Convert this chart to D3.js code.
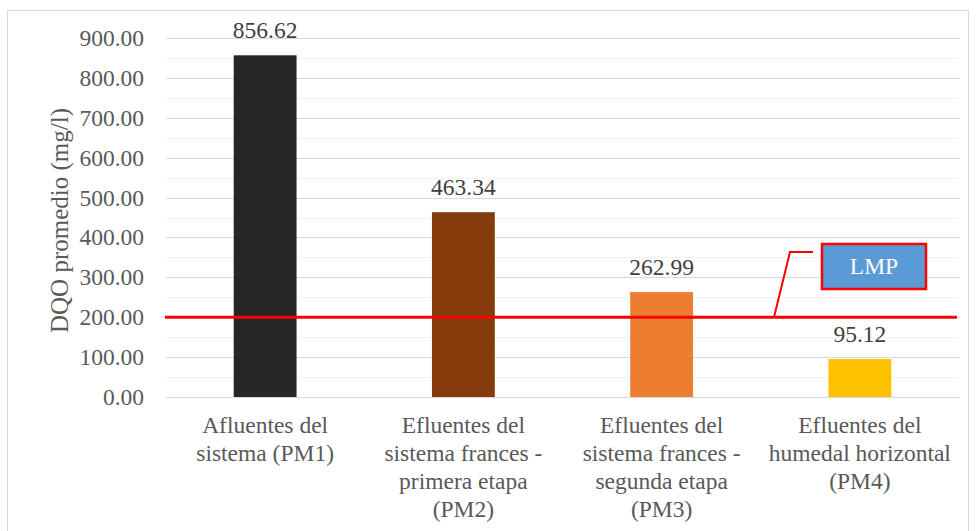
<!DOCTYPE html>
<html><head><meta charset="utf-8">
<script src="https://cdn.jsdelivr.net/npm/d3@7"></script>
<style>body{margin:0;background:#fff}svg{display:block}</style>
</head><body>
<svg id="c" width="976" height="531"></svg>
<script>
const categories = [
  ["Afluentes del","sistema (PM1)"],
  ["Efluentes del","sistema frances -","primera etapa","(PM2)"],
  ["Efluentes del","sistema frances -","segunda etapa","(PM3)"],
  ["Efluentes del","humedal horizontal","(PM4)"]
];
const values = [856.62, 463.34, 262.99, 95.12];
const barColors = ["#262626", "#843C0C", "#ED7D31", "#FFC000"];
const yTicks = [0,100,200,300,400,500,600,700,800,900];
const minorTicks = [50,150,250,350,450,550,650,750,850];
const limitValue = 200;
const limitLabel = "LMP";
const yTitle = "DQO promedio (mg/l)";

(function(){
const svg = d3.select("#c");
const font = "'Liberation Serif','Times New Roman',serif";
const pL = 166, pR = 959, pT = 38, pB = 397;
const x = d3.scaleBand().domain(d3.range(values.length)).range([pL,pR]).paddingInner(0.683).paddingOuter(0.3415);
const y = d3.scaleLinear().domain([0,900]).range([pB, pT]);

svg.append("rect").attr("x",7.5).attr("y",10.5).attr("width",961).attr("height",530)
  .attr("fill","none").attr("stroke","#D9D9D9").attr("stroke-width",1);

svg.append("g").selectAll("line").data(minorTicks).join("line")
  .attr("x1",pL).attr("x2",pR).attr("y1",d=>Math.round(y(d))+0.5).attr("y2",d=>Math.round(y(d))+0.5)
  .attr("stroke","#F2F2F2").attr("stroke-width",1);
svg.append("g").selectAll("line").data(yTicks).join("line")
  .attr("x1",pL).attr("x2",pR).attr("y1",d=>Math.round(y(d))+0.5).attr("y2",d=>Math.round(y(d))+0.5)
  .attr("stroke","#D9D9D9").attr("stroke-width",1);

const yAxis = d3.axisLeft(y).tickValues(yTicks).tickFormat(d3.format(".2f")).tickSize(0).tickPadding(22);
const ga = svg.append("g").attr("transform",`translate(${pL},0)`).call(yAxis);
ga.select(".domain").remove();
ga.selectAll("text").attr("font-family",font).attr("font-size",23.5).attr("fill","#595959");

svg.append("text").attr("transform",`translate(68,${(pT+pB)/2+3}) rotate(-90)`)
  .attr("text-anchor","middle").attr("font-family",font).attr("font-size",25).attr("fill","#595959")
  .text(yTitle);

svg.append("g").selectAll("rect").data(values).join("rect")
  .attr("x",(d,i)=>x(i)).attr("width",x.bandwidth())
  .attr("y",d=>y(d)).attr("height",d=>pB-y(d))
  .attr("fill",(d,i)=>barColors[i]);

svg.append("g").selectAll("text").data(values).join("text")
  .attr("x",(d,i)=>x(i)+x.bandwidth()/2).attr("y",d=>y(d)-17)
  .attr("text-anchor","middle").attr("font-family",font).attr("font-size",23.5).attr("fill","#404040")
  .text(d=>d3.format(".2f")(d));

const cg = svg.append("g");
categories.forEach((lines,i)=>{
  const t = cg.append("text").attr("text-anchor","middle").attr("font-family",font)
    .attr("font-size",23.5).attr("fill","#595959");
  lines.forEach((l,j)=>{
    t.append("tspan").attr("x",x(i)+x.bandwidth()/2).attr("y",433+j*28).text(l);
  });
});

const ly = y(limitValue);
svg.append("line").attr("x1",pL-1).attr("x2",pR-2).attr("y1",ly).attr("y2",ly)
  .attr("stroke","#FF0000").attr("stroke-width",3);

svg.append("polyline").attr("points",`774,${ly} 790,252 813,252`)
  .attr("fill","none").attr("stroke","#FF0000").attr("stroke-width",2);
svg.append("rect").attr("x",822).attr("y",244).attr("width",104).attr("height",45)
  .attr("fill","#5B9BD5").attr("stroke","#FF0000").attr("stroke-width",2.5);
svg.append("text").attr("x",874).attr("y",274).attr("text-anchor","middle")
  .attr("font-family",font).attr("font-size",23.5).attr("fill","#FFFFFF").text(limitLabel);
})();
</script>
</body></html>
